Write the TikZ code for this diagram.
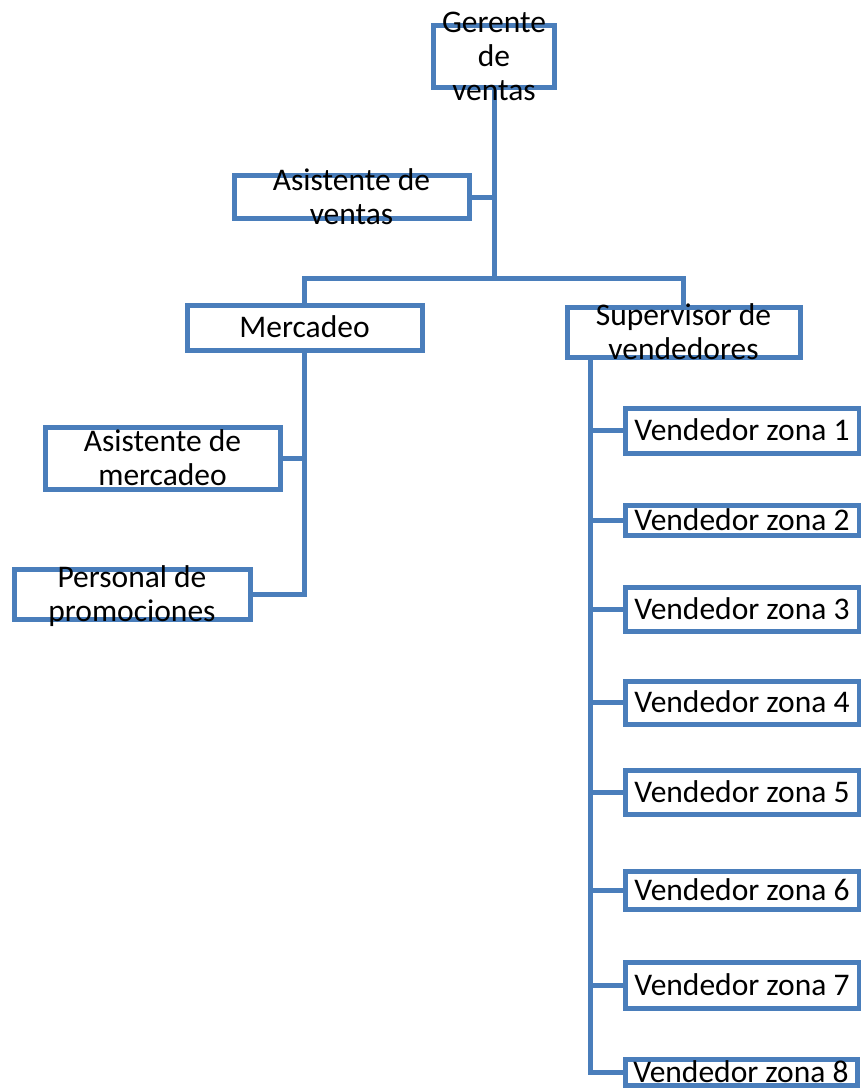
\documentclass[tikz,border=0pt]{standalone}
\usepackage{fontspec}
\setmainfont{Carlito}
\usepackage{tikz}
\usetikzlibrary{backgrounds}
\definecolor{orgblue}{RGB}{74,126,187}
% text of a box, centred on the box and allowed to run over its border
\newcommand{\orgtext}[1]{\raisebox{-9.5pt}[0pt][0pt]{\begin{tabular}{@{}c@{}}#1\end{tabular}}}

\begin{document}
\begin{tikzpicture}[x=1pt,y=-1pt,
    orgbox/.style={rectangle,draw=orgblue,line width=5pt,fill=white,inner sep=0pt,font=\fontsize{31.5}{34}\selectfont},
    link/.style={draw=orgblue,line width=5pt}]
            %
            \useasboundingbox (0,0) rectangle (861,1088);
            %
            \node (gerente) at (494,56) [orgbox,minimum width=121,minimum height=62] {\orgtext{Gerente\\de\\ventas}};
            \node (asisventas) at (351.5,197) [orgbox,minimum width=235,minimum height=43] {\orgtext{Asistente de\\ventas}};
            \node (mercadeo) at (304.5,327.5) [orgbox,minimum width=235,minimum height=45] {\orgtext{Mercadeo}};
            \node (supervisor) at (683.5,332) [orgbox,minimum width=233,minimum height=50] {\orgtext{Supervisor de\\vendedores}};
            \node (asismercadeo) at (162.5,458) [orgbox,minimum width=235,minimum height=62] {\orgtext{Asistente de\\mercadeo}};
            \node (promociones) at (132,594) [orgbox,minimum width=236,minimum height=50] {\orgtext{Personal de\\promociones}};
            %
            \node (zona1) at (742,430.5) [orgbox,minimum width=234,minimum height=45] {\orgtext{Vendedor zona 1}};
            \node (zona2) at (742,520) [orgbox,minimum width=234,minimum height=30] {\orgtext{Vendedor zona 2}};
            \node (zona3) at (742,609) [orgbox,minimum width=234,minimum height=44] {\orgtext{Vendedor zona 3}};
            \node (zona4) at (742,702.5) [orgbox,minimum width=234,minimum height=43] {\orgtext{Vendedor zona 4}};
            \node (zona5) at (742,792) [orgbox,minimum width=234,minimum height=44] {\orgtext{Vendedor zona 5}};
            \node (zona6) at (742,890) [orgbox,minimum width=234,minimum height=38] {\orgtext{Vendedor zona 6}};
            \node (zona7) at (742,985) [orgbox,minimum width=234,minimum height=46] {\orgtext{Vendedor zona 7}};
            \node (zona8) at (741,1072) [orgbox,minimum width=232,minimum height=26] {\orgtext{Vendedor zona 8}};
            %
            \coordinate (bar) at (494,278);
            \coordinate (spine) at (590,357);
            %
            \begin{scope}[on background layer]
            \draw [link] (gerente.south) -- (bar);
            \draw [link] (asisventas.east) -- (asisventas.east -| bar);
            \draw [link] (bar) -| (mercadeo.north);
            \draw [link] (bar) -| (supervisor.north);
            \draw [link] (asismercadeo.east) -- (asismercadeo.east -| mercadeo.south);
            \draw [link] (promociones.east) -| (mercadeo.south);
            \draw [link] (spine) |- (zona8.west);
            \draw [link] (zona1.west) -- (zona1.west -| spine);
            \draw [link] (zona2.west) -- (zona2.west -| spine);
            \draw [link] (zona3.west) -- (zona3.west -| spine);
            \draw [link] (zona4.west) -- (zona4.west -| spine);
            \draw [link] (zona5.west) -- (zona5.west -| spine);
            \draw [link] (zona6.west) -- (zona6.west -| spine);
            \draw [link] (zona7.west) -- (zona7.west -| spine);
            \end{scope}
            %
\end{tikzpicture}
\end{document}
